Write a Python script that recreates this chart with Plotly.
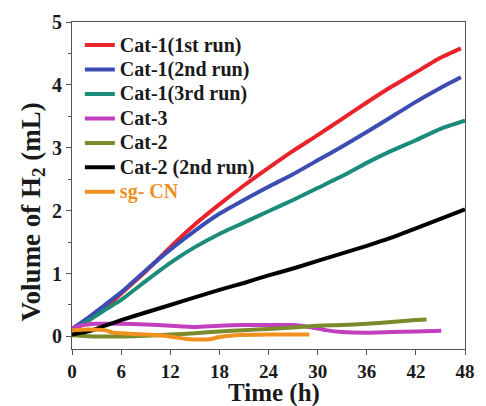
import plotly.graph_objects as go

# ---- data ----
t_red = [0, 2, 4, 6, 9, 12, 15, 18, 21, 24, 27, 30, 33, 36, 39, 42, 45, 47.5]
v_red = [0.08, 0.25, 0.45, 0.68, 1.03, 1.42, 1.78, 2.1, 2.4, 2.68, 2.95, 3.2, 3.46, 3.72, 3.97, 4.2, 4.43, 4.58]

t_blue = [0, 2, 4, 6, 9, 12, 15, 18, 21, 24, 27, 30, 33, 36, 39, 42, 45, 47.5]
v_blue = [0.12, 0.3, 0.5, 0.7, 1.05, 1.38, 1.68, 1.95, 2.17, 2.38, 2.58, 2.8, 3.02, 3.25, 3.49, 3.73, 3.95, 4.12]

t_teal = [0, 2, 4, 6, 9, 12, 15, 18, 21, 24, 27, 30, 33, 36, 39, 42, 45, 48]
v_teal = [0.1, 0.25, 0.42, 0.58, 0.88, 1.17, 1.42, 1.63, 1.81, 1.99, 2.17, 2.36, 2.55, 2.76, 2.95, 3.12, 3.3, 3.43]

t_mag = [0, 1, 3, 6, 9, 12, 15, 18, 21, 24, 27, 29, 31, 33, 36, 39, 42, 45.1]
v_mag = [0.13, 0.17, 0.2, 0.2, 0.19, 0.17, 0.15, 0.17, 0.18, 0.18, 0.18, 0.15, 0.1, 0.07, 0.06, 0.07, 0.08, 0.09]

t_olive = [0, 3, 6, 9, 12, 15, 18, 21, 24, 27, 30, 33, 36, 39, 42, 43.3]
v_olive = [0.02, 0.0, 0.0, 0.01, 0.03, 0.05, 0.08, 0.1, 0.12, 0.14, 0.17, 0.18, 0.2, 0.23, 0.26, 0.27]

t_black = [0, 2, 4, 6, 9, 12, 15, 18, 21, 24, 27, 30, 33, 36, 39, 42, 45, 48]
v_black = [0.03, 0.08, 0.17, 0.26, 0.38, 0.5, 0.62, 0.74, 0.85, 0.97, 1.08, 1.2, 1.32, 1.44, 1.57, 1.72, 1.87, 2.02]

t_orange = [0, 2, 4, 5, 6, 9, 12, 14, 16, 17, 18, 20, 24, 27, 29]
v_orange = [0.1, 0.11, 0.1, 0.06, 0.05, 0.03, 0.0, -0.04, -0.05, -0.04, -0.01, 0.02, 0.03, 0.03, 0.03]

x_ticks = [0, 6, 12, 18, 24, 30, 36, 42, 48]
y_ticks = [0, 1, 2, 3, 4, 5]

series_names = ["Cat-1(1st run)", "Cat-1(2nd run)", "Cat-1(3rd run)", "Cat-3",
                "Cat-2", "Cat-2 (2nd run)", "sg- CN"]
series_colors = ["#e8232b", "#3b4db3", "#1b8c7a", "#c23fbf", "#7b8a2b", "#000000", "#f0901e"]
series_t = [t_red, t_blue, t_teal, t_mag, t_olive, t_black, t_orange]
series_v = [v_red, v_blue, v_teal, v_mag, v_olive, v_black, v_orange]
label_colors = ["#1a1a1a"] * 6 + ["#f0901e"]

fig = go.Figure()
for name, t, v, c, lc in zip(series_names, series_t, series_v, series_colors, label_colors):
    label = f"<span style='font-size:20px;color:{lc}'>{name}</span>"
    fig.add_trace(go.Scatter(x=t, y=v, mode="lines", name=label,
                             line=dict(color=c, width=4, shape="spline", smoothing=0.5)))

font_family = "Liberation Serif, Times New Roman, serif"
txt = "#1a1a1a"
fig.update_layout(
    width=486, height=406,
    margin=dict(l=72, r=11, t=21, b=57),
    paper_bgcolor="white", plot_bgcolor="white",
    font=dict(family=font_family, color=txt),
    showlegend=True,
    legend=dict(x=0.02, y=0.982, xanchor="left", yanchor="top", maxheight=1,
                bgcolor="rgba(0,0,0,0)", font=dict(size=16.5, family=font_family, color=txt, weight="bold"),
                tracegroupgap=0, itemwidth=30),
    annotations=[
        dict(text="Time (h)", xref="paper", yref="paper", x=0.515, y=-0.134,
             xanchor="center", yanchor="middle", showarrow=False,
             font=dict(size=25, family=font_family, weight="bold", color=txt)),
        dict(text="Volume of H<sub>2</sub> (mL)", xref="paper", yref="paper", x=-0.099, y=0.418,
             xanchor="center", yanchor="middle", showarrow=False, textangle=-90,
             font=dict(size=27, family=font_family, weight="bold", color=txt)),
    ],
)
fig.update_xaxes(
    range=[0, 48], tickvals=x_ticks, ticktext=[str(v) for v in x_ticks],
    showline=True, linecolor="#555555", linewidth=1, mirror=True,
    ticks="outside", ticklen=5, tickcolor="#555555",
    showgrid=False, zeroline=False,
    tickfont=dict(size=19, family=font_family, weight="bold", color=txt),
)
fig.update_yaxes(
    range=[-0.2, 5], tickvals=y_ticks, ticktext=[str(v) for v in y_ticks],
    showline=True, linecolor="#555555", linewidth=1, mirror=True,
    ticks="outside", ticklen=5, tickcolor="#555555",
    minor=dict(dtick=0.5, ticks="outside", ticklen=3, tickcolor="#555555"),
    showgrid=False, zeroline=False,
    tickfont=dict(size=20, family=font_family, weight="bold", color=txt),
)

fig.write_html("out.html", config={"displayModeBar": False},
               post_script="document.body.style.margin='0';document.body.style.overflow='hidden';")
